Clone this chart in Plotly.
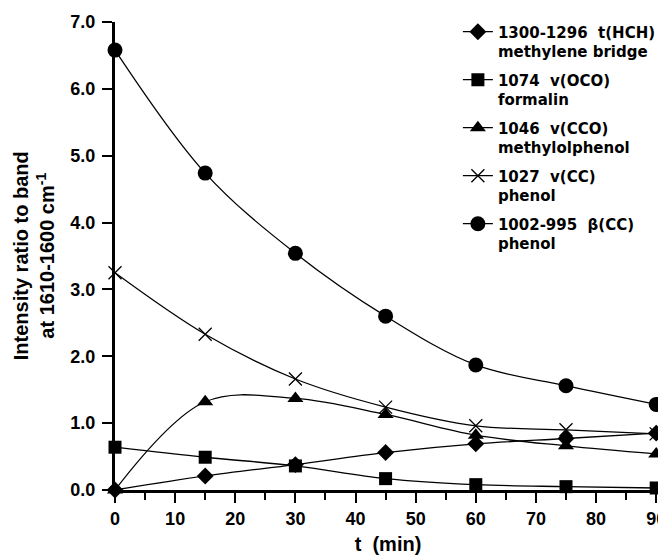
import plotly.graph_objects as go

t_min = [0, 15, 30, 45, 60, 75, 90]

hch_methylene = [0.00, 0.21, 0.38, 0.56, 0.69, 0.77, 0.85]
oco_formalin = [0.64, 0.49, 0.36, 0.17, 0.08, 0.05, 0.03]
cco_methylolphenol = [0.00, 1.32, 1.37, 1.13, 0.82, 0.66, 0.54]
cc_phenol_1027 = [3.25, 2.33, 1.66, 1.24, 0.96, 0.90, 0.84]
cc_phenol_1002 = [6.58, 4.74, 3.54, 2.60, 1.87, 1.56, 1.28]

NB = "\u00a0"
series_names = [
    f"1300-1296 {NB}t(HCH)<br>methylene bridge",
    f"1074 {NB}v(OCO)<br>formalin",
    f"1046 {NB}v(CCO)<br>methylolphenol",
    f"1027 {NB}v(CC)<br>phenol",
    f"1002-995 {NB}β(CC)<br>phenol",
]

x_tick_vals = [0, 10, 20, 30, 40, 50, 60, 70, 80, 90]
y_tick_vals = [0, 1, 2, 3, 4, 5, 6, 7]

FONT = "Liberation Sans, Arial, sans-serif"
LEG_FONT = "DejaVu Sans, Liberation Sans, sans-serif"

series = [
    (hch_methylene, "diamond", 13, 0),
    (oco_formalin, "square", 13, 0),
    (cco_methylolphenol, "triangle-up", 14, 0),
    (cc_phenol_1027, "x-thin", 13, 1.3),
    (cc_phenol_1002, "circle", 15, 0),
]

fig = go.Figure()
for i, ((vals, sym, sz, lw), name) in enumerate(zip(series, series_names)):
    fig.add_trace(go.Scatter(
        x=t_min, y=vals, name=name, mode="lines+markers",
        legendgroup=f"g{i}",
        line=dict(color="black", width=1.3, shape="spline", smoothing=1.0),
        marker=dict(symbol=sym, size=sz, color="black",
                    line=dict(color="black", width=lw)),
        cliponaxis=False,
    ))

# page body has an 8px margin, so the figure is sized/offset to compensate
fig.update_layout(
    width=658, height=547,
    margin=dict(l=107, r=0, t=14, b=64),
    plot_bgcolor="white", paper_bgcolor="white",
    font=dict(family=FONT, size=17, color="black", weight="bold"),
    showlegend=True,
    legend=dict(x=0.628, y=1.014, xanchor="left", yanchor="top",
                valign="top", bgcolor="rgba(0,0,0,0)",
                traceorder="grouped", tracegroupgap=6,
                font=dict(family=LEG_FONT, size=15, color="black", weight="bold")),
    xaxis=dict(range=[0, 90.8], tickvals=x_tick_vals, showgrid=False,
               zeroline=False, showline=True, linecolor="black", linewidth=3,
               ticks="outside", ticklen=10, tickwidth=2, tickcolor="black",
               minor=dict(dtick=5, tick0=0, ticks="outside", ticklen=7,
                          tickwidth=2, tickcolor="black"),
               tickfont=dict(size=18), ticklabelstandoff=0,
               ticklabeloverflow="allow",
               title=dict(text=f"t {NB}(min)", font=dict(size=20), standoff=12)),
    yaxis=dict(range=[0, 7], tickvals=y_tick_vals, tickformat=".1f",
               showgrid=False, zeroline=False, showline=True,
               linecolor="black", linewidth=3, ticks="outside", ticklen=10,
               tickwidth=2, tickcolor="black", tickfont=dict(size=18),
               ticklabelstandoff=3),
    annotations=[dict(
        text="Intensity ratio to band<br>at 1610-1600 cm<sup>-1</sup>",
        xref="paper", yref="paper", x=-0.148, y=0.5, textangle=-90,
        showarrow=False, font=dict(size=20, family=FONT, weight="bold"),
        xanchor="center", yanchor="middle",
    )],
)

fig.write_html("out.html")
